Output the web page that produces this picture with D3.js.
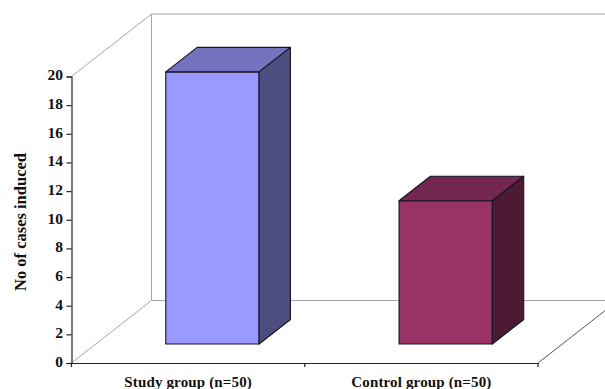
<!DOCTYPE html>
<html>
<head>
<meta charset="utf-8">
<script src="https://cdn.jsdelivr.net/npm/d3@7"></script>
<style>
  html, body { margin: 0; padding: 0; background: #fff; overflow: hidden; }
  svg { display: block; }
  text { font-family: "Liberation Serif", serif; font-weight: bold; fill: #111; }
</style>
</head>
<body>
<svg id="chart" width="605" height="389"></svg>
<script>
const categories = ["Study group (n=50)", "Control group (n=50)"];
const cases = [19, 10];
const yTicks = [0, 2, 4, 6, 8, 10, 12, 14, 16, 18, 20];
const yTitle = "No of cases induced";
const frontColors = ["#9999ff", "#993366"];
const topColors = ["#7373bf", "#732650"];
const sideColors = ["#4d4d80", "#4d1a33"];

const left = 71.5, right = 538, floorY = 363, ceilY = 76.5;
const depthX = 80, depthY = -62.5;     // full depth of the 3D box
const barNear = 0.304, barFar = 0.696; // bar extent along the depth axis

const svg = d3.select("#chart");
const band = d3.scaleBand().domain(categories).range([left, right]);
const y = d3.scaleLinear().domain([0, 20]).range([floorY, ceilY]);

const project = (px, py, t) => [px + depthX * t, py + depthY * t];
const poly = pts => d3.line()(pts) + "Z";

// Walls of the box
const wall = svg.append("g").attr("fill", "none").attr("stroke", "#a6a6a6").attr("stroke-width", 1);
const corners = {
  floorBack: project(left, y(0), 1),
  ceilBack: project(left, y(20), 1),
  floorRight: project(right, y(0), 1),
  ceilRight: project(right, y(20), 1)
};
wall.append("path").attr("d", d3.line()([[left, y(20)], corners.ceilBack, corners.ceilRight]));
wall.append("path").attr("d", d3.line()([[left, y(0)], corners.floorBack, corners.floorRight]));
wall.append("path").attr("d", d3.line()([corners.ceilBack, corners.floorBack]));
wall.append("path").attr("d", d3.line()([[right, y(0)], corners.floorRight])).attr("stroke", "#555");

// Bars: front, top and side faces
const barWidth = band.bandwidth() * 0.4;
const bars = svg.append("g").selectAll("g").data(categories).join("g")
  .attr("stroke", "#15151f").attr("stroke-width", 1.1).attr("stroke-linejoin", "round");

bars.each(function (c, i) {
  const g = d3.select(this);
  const x0 = band(c) + (band.bandwidth() - barWidth) / 2;
  const x1 = x0 + barWidth;
  const top = y(cases[i]), base = y(0);
  const a = project(x0, top, barNear), b = project(x1, top, barNear);
  const c0 = project(x1, base, barNear), d = project(x0, base, barNear);
  const bTop = project(x1, top, barFar), aTop = project(x0, top, barFar);
  const cBack = project(x1, base, barFar);
  g.append("path").attr("d", poly([a, b, c0, d])).attr("fill", frontColors[i]);
  g.append("path").attr("d", poly([a, aTop, bTop, b])).attr("fill", topColors[i]);
  g.append("path").attr("d", poly([b, bTop, cBack, c0])).attr("fill", sideColors[i]);
});

// Axes
const yAxis = svg.append("g").attr("transform", `translate(${left},0)`)
  .call(d3.axisLeft(y).tickValues(yTicks).tickSize(5).tickPadding(3.5));
yAxis.selectAll("text").style("font-size", "15.5px").attr("dy", "0.22em")
  .style("font-family", '"Liberation Serif", serif').style("font-weight", "bold");
yAxis.selectAll("line,path").attr("stroke", "#222").attr("stroke-width", 1.2);

const xAxis = svg.append("g").attr("transform", `translate(0,${floorY})`)
  .call(d3.axisBottom(band).tickSize(0).tickPadding(13));
xAxis.selectAll("text").style("font-size", "15px").style("letter-spacing", "0.15px")
  .style("font-family", '"Liberation Serif", serif').style("font-weight", "bold");
xAxis.selectAll("line").remove();
xAxis.select("path").attr("stroke", "#222").attr("stroke-width", 1.2);
xAxis.selectAll(".edge").data(band.domain().concat("end")).join("line").attr("class", "edge")
  .attr("x1", d => d === "end" ? right : band(d)).attr("x2", d => d === "end" ? right : band(d))
  .attr("y1", 0).attr("y2", 4).attr("stroke", "#222").attr("stroke-width", 1.2);

svg.append("text")
  .attr("transform", "translate(25.5,222) rotate(-90)")
  .attr("text-anchor", "middle")
  .style("font-size", "16.5px")
  .text(yTitle);
</script>
</body>
</html>
